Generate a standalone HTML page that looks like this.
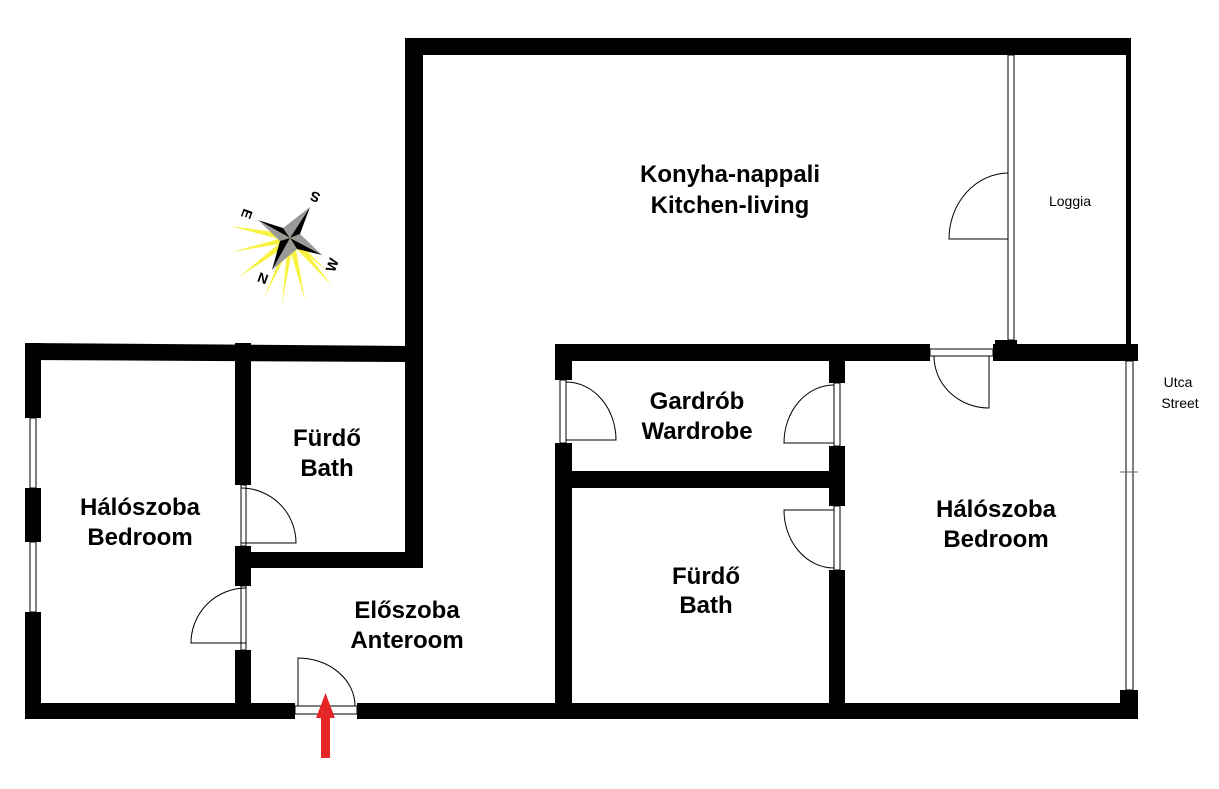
<!DOCTYPE html>
<html><head><meta charset="utf-8"><style>
html,body{margin:0;padding:0;background:#fff}
svg{display:block}
text{font-family:"Liberation Sans",Arial,sans-serif;font-weight:bold;font-size:24px;fill:#000;text-anchor:middle}
.s{font-weight:normal;font-size:14px}
</style></head><body>
<svg width="1219" height="789" viewBox="0 0 1219 789" xmlns="http://www.w3.org/2000/svg">
<g fill="#000">
<polygon points="25,343 408,346 408,362 25,360"/>
<rect x="25" y="343" width="16" height="75"/>
<rect x="25" y="488" width="16" height="54"/>
<rect x="25" y="612" width="16" height="107"/>
<rect x="25" y="703" width="270" height="16"/>
<rect x="357" y="703" width="781" height="16"/>
<rect x="235" y="343" width="16" height="142"/>
<rect x="235" y="546" width="16" height="40"/>
<rect x="235" y="650" width="16" height="60"/>
<rect x="235" y="552" width="188" height="16"/>
<rect x="405" y="38" width="18" height="530"/>
<rect x="405" y="38" width="726" height="17"/>
<rect x="1126" y="38" width="5" height="322"/>
<rect x="555" y="344" width="375" height="17"/>
<rect x="993" y="344" width="145" height="17"/>
<rect x="995" y="340" width="22" height="8"/>
<rect x="555" y="344" width="17" height="36"/>
<rect x="555" y="443" width="17" height="270"/>
<rect x="555" y="471" width="290" height="17"/>
<rect x="829" y="361" width="16" height="22"/>
<rect x="829" y="446" width="16" height="60"/>
<rect x="829" y="570" width="16" height="140"/>
<rect x="1120" y="690" width="18" height="29"/>
<rect x="1120" y="345" width="18" height="16"/>
</g>
<g fill="#fff" stroke="#000" stroke-width="1">
<rect x="30" y="418" width="6" height="70"/>
<rect x="30" y="542" width="6" height="70"/>
<rect x="241" y="485" width="5" height="61"/>
<rect x="241" y="586" width="5" height="64"/>
<rect x="295" y="706" width="62" height="8"/>
<rect x="560" y="380" width="6" height="63"/>
<rect x="834" y="383" width="6" height="63"/>
<rect x="834" y="506" width="6" height="64"/>
<rect x="930" y="349" width="63" height="7"/>
<rect x="1008" y="55" width="6" height="285"/>
<rect x="1126" y="361" width="7" height="329"/>
</g>
<line x1="1120" y1="472" x2="1138" y2="472" stroke="#666"/>
<g fill="none" stroke="#000" stroke-width="1">
<path d="M241,488 A55,55 0 0 1 296,543 L241,543"/>
<path d="M246,588 A55,55 0 0 0 191,643 L246,643"/>
<path d="M298,706 L298,658 A57,48 0 0 1 355,706"/>
<path d="M566,382 A50,58 0 0 1 616,440 L566,440"/>
<path d="M834,385 A50,58 0 0 0 784,443 L834,443"/>
<path d="M834,510 L784,510 A50,58 0 0 0 834,568"/>
<path d="M934,356 A55,52 0 0 0 989,408 L989,356"/>
<path d="M1008,173 A60,66 0 0 0 949,239 L1008,239"/>
</g>
<rect x="321" y="715" width="9" height="43" fill="#e52626"/>
<polygon points="316,718 335,718 325.5,693" fill="#e52626"/>
<!-- compass -->
<g fill="#f7f020" opacity="0.85">
<polygon points="290,234 290,242 230,226"/>
<polygon points="289,236 291,242 232,252"/>
<polygon points="288,236 292,242 238,278"/>
<polygon points="288,238 293,241 264,298"/>
<polygon points="288,240 294,239 282,304"/>
<polygon points="287,240 294,238 305,300"/>
<polygon points="288,240 294,236 332,286"/>
<polygon points="290,234 292,242 328,272"/>
</g>
<polygon points="258,220 290,238 283,228" fill="#000"/>
<polygon points="258,220 290,238 280,241" fill="#999"/>
<polygon points="310,207 290,238 283,228" fill="#999"/>
<polygon points="310,207 290,238 300,234" fill="#000"/>
<polygon points="322,255 290,238 300,234" fill="#999"/>
<polygon points="322,255 290,238 297,249" fill="#000"/>
<polygon points="272,270 290,238 297,249" fill="#999"/>
<polygon points="272,270 290,238 280,241" fill="#000"/>
<text x="315" y="202" style="font-size:14px" transform="rotate(200 315 197)">S</text>
<text x="247" y="219" style="font-size:14px" transform="rotate(110 247 214)">E</text>
<text x="332" y="270" style="font-size:14px" transform="rotate(-70 332 265)">W</text>
<text x="263" y="283" style="font-size:14px" transform="rotate(20 263 278)">N</text>
<!-- labels -->
<text x="140" y="515">Hálószoba</text><text x="140" y="545">Bedroom</text>
<text x="327" y="446">Fürdő</text><text x="327" y="476">Bath</text>
<text x="407" y="618">Előszoba</text><text x="407" y="648">Anteroom</text>
<text x="730" y="182">Konyha-nappali</text><text x="730" y="213">Kitchen-living</text>
<text x="697" y="409">Gardrób</text><text x="697" y="439">Wardrobe</text>
<text x="706" y="584">Fürdő</text><text x="706" y="613">Bath</text>
<text x="996" y="517">Hálószoba</text><text x="996" y="547">Bedroom</text>
<text class="s" x="1070" y="206">Loggia</text>
<text class="s" x="1178" y="387">Utca</text><text class="s" x="1180" y="408">Street</text>
</svg>
</body></html>
